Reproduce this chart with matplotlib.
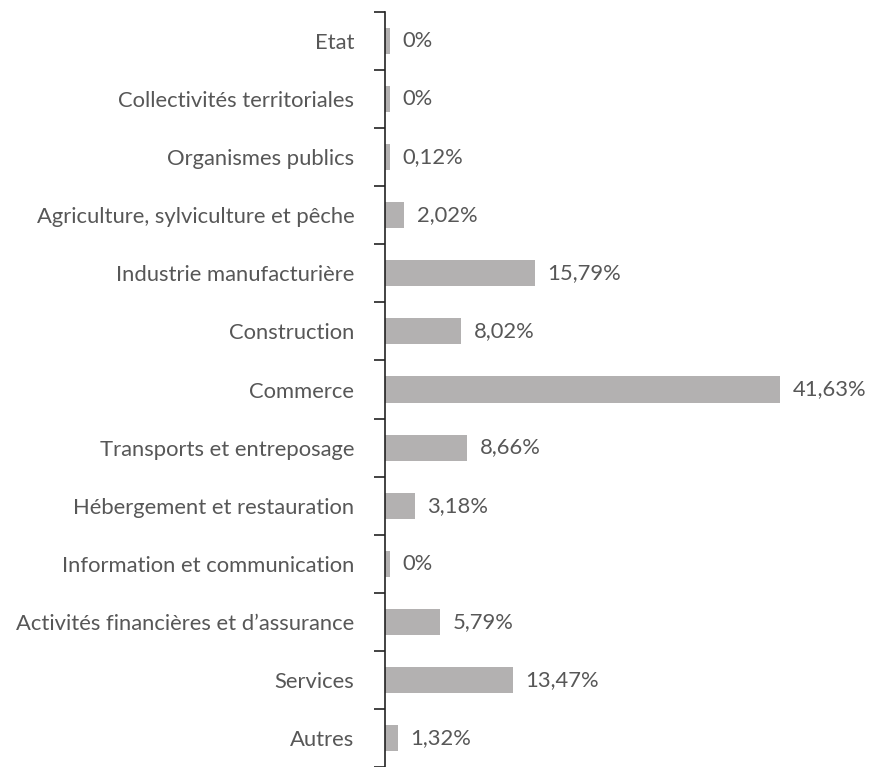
import matplotlib
matplotlib.use("Agg")
import matplotlib.pyplot as plt
import numpy as np

categories = ["Etat", "Collectivités territoriales", "Organismes publics",
              "Agriculture, sylviculture et pêche", "Industrie manufacturière",
              "Construction", "Commerce", "Transports et entreposage",
              "Hébergement et restauration", "Information et communication",
              "Activités financières et d\u2019assurance", "Services", "Autres"]
values = [0, 0, 0.12, 2.02, 15.79, 8.02, 41.63, 8.66, 3.18, 0, 5.79, 13.47, 1.32]
labels = ["0%", "0%", "0,12%", "2,02%", "15,79%", "8,02%", "41,63%", "8,66%",
          "3,18%", "0%", "5,79%", "13,47%", "1,32%"]

plt.rcParams['font.family'] = ['Lato', 'DejaVu Sans']
txt = '#575757'
fs = 15.8

fig = plt.figure(figsize=(8.69, 7.67), dpi=100)
ax = fig.add_axes([385/869, 0.0, 484/869, 1 - 12/767])

y = np.arange(len(categories))
shown = [max(v, 0.5) for v in values]  # tiny stub so zero bars stay visible
ax.barh(y, shown, height=0.45, color='#b3b1b1')
for yi, s, lab in zip(y, shown, labels):
    ax.text(s + 1.3, yi, lab, va='center', ha='left', fontsize=fs, color=txt)

ax.set_xlim(0, 51)
ax.set_ylim(len(categories) - 0.5, -0.5)
ax.set_yticks(y)
ax.set_yticklabels(categories, fontsize=fs, color=txt)
ax.set_yticks(np.arange(len(categories) + 1) - 0.5, minor=True)
ax.tick_params(axis='y', which='major', length=0, pad=22)
ax.tick_params(axis='y', which='minor', length=8, width=1.2, color='#222222')
ax.set_xticks([])
for side in ['top', 'right', 'bottom']:
    ax.spines[side].set_visible(False)
ax.spines['left'].set_linewidth(1.2)
ax.spines['left'].set_color('#222222')

fig.savefig("out.png", dpi=100)
